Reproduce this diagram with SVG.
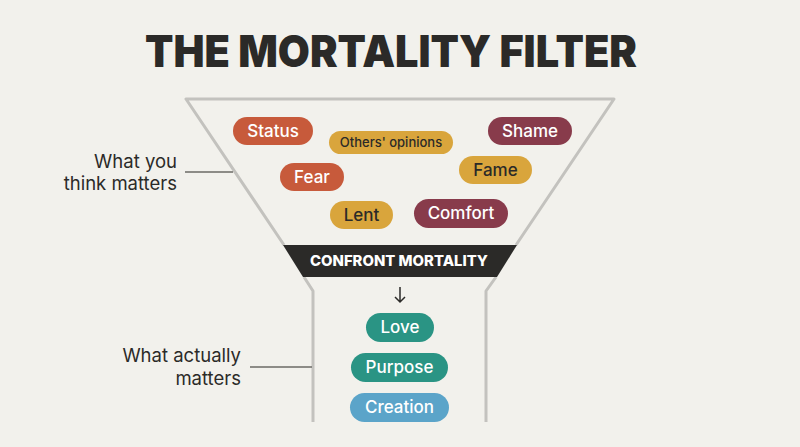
<svg xmlns="http://www.w3.org/2000/svg" width="800" height="447" viewBox="0 0 800 447">
<style>
.bg{fill:#f2f1ec}
.funnel{fill:none;stroke:#c3c2be;stroke-width:3;stroke-linejoin:round}
.lead{stroke:#6b6a66;stroke-width:1.5}
.lbl{font-family:Inter,"Liberation Sans",sans-serif;font-size:18.5px;fill:#2b2a28;text-anchor:end}
.pt{font-family:Inter,"Liberation Sans",sans-serif;font-size:17px;font-weight:500;text-anchor:middle}
.sm{font-size:13px}
.w{fill:#ffffff}
.d{fill:#2b2a28}
.orange{fill:#c75a3b}
.gold{fill:#d9a53c}
.maroon{fill:#883b4b}
.teal{fill:#2a9484}
.blue{fill:#5ba4c9}
</style>
<rect class="bg" width="800" height="447"/>
<text x="391" y="67" font-family="Inter,'Liberation Sans',sans-serif" font-size="44" font-weight="900" fill="#2b2a28" text-anchor="middle" textLength="492" lengthAdjust="spacingAndGlyphs">THE MORTALITY FILTER</text>
<g id="funnel">
<polyline class="funnel" points="284,245 186,99 614,99 516,245"/>
<polyline class="funnel" points="304,277 313,291 313,422"/>
<polyline class="funnel" points="496,277 486,291 486,422"/>
</g>
<g id="band">
<polygon points="283,245 517,245 497,277 303,277" fill="#2b2a28"/>
<text x="399" y="266" font-family="Inter,'Liberation Sans',sans-serif" font-size="15" font-weight="800" fill="#ffffff" text-anchor="middle" textLength="178" lengthAdjust="spacingAndGlyphs">CONFRONT MORTALITY</text>
</g>
<g id="connectors">
<line class="lead" x1="185" y1="172" x2="233" y2="172"/>
<line class="lead" x1="250" y1="367" x2="312" y2="367"/>
<path d="M400,287 V302 M395,297 L400,302 L405,297" fill="none" stroke="#2b2a28" stroke-width="1.5"/>
</g>
<g id="label-think">
<text class="lbl" x="177" y="168">What you</text>
<text class="lbl" x="177" y="190">think matters</text>
</g>
<g id="label-actual">
<text class="lbl" x="241" y="362">What actually</text>
<text class="lbl" x="241" y="385">matters</text>
</g>
<g id="status"><rect class="orange" x="233" y="117" width="80" height="28" rx="14"/><text class="pt w" x="273" y="137">Status</text></g>
<g id="others"><rect class="gold" x="329" y="131" width="124" height="23" rx="11.5"/><text class="pt sm d" x="391" y="147">Others' opinions</text></g>
<g id="shame"><rect class="maroon" x="488" y="117" width="84" height="28" rx="14"/><text class="pt w" x="530" y="137">Shame</text></g>
<g id="fear"><rect class="orange" x="280" y="163" width="64" height="28" rx="14"/><text class="pt w" x="312" y="183">Fear</text></g>
<g id="fame"><rect class="gold" x="459" y="156" width="73" height="28" rx="14"/><text class="pt d" x="495.5" y="176">Fame</text></g>
<g id="lent"><rect class="gold" x="330" y="201" width="63" height="28" rx="14"/><text class="pt d" x="361.5" y="221">Lent</text></g>
<g id="comfort"><rect class="maroon" x="414" y="199" width="94" height="29" rx="14.5"/><text class="pt w" x="461" y="219">Comfort</text></g>
<g id="love"><rect class="teal" x="366" y="313" width="68" height="29" rx="14.5"/><text class="pt w" x="400" y="333">Love</text></g>
<g id="purpose"><rect class="teal" x="351" y="353" width="97" height="29" rx="14.5"/><text class="pt w" x="399.5" y="373">Purpose</text></g>
<g id="creation"><rect class="blue" x="350" y="393" width="99" height="29" rx="14.5"/><text class="pt w" x="399.5" y="413">Creation</text></g>
</svg>
